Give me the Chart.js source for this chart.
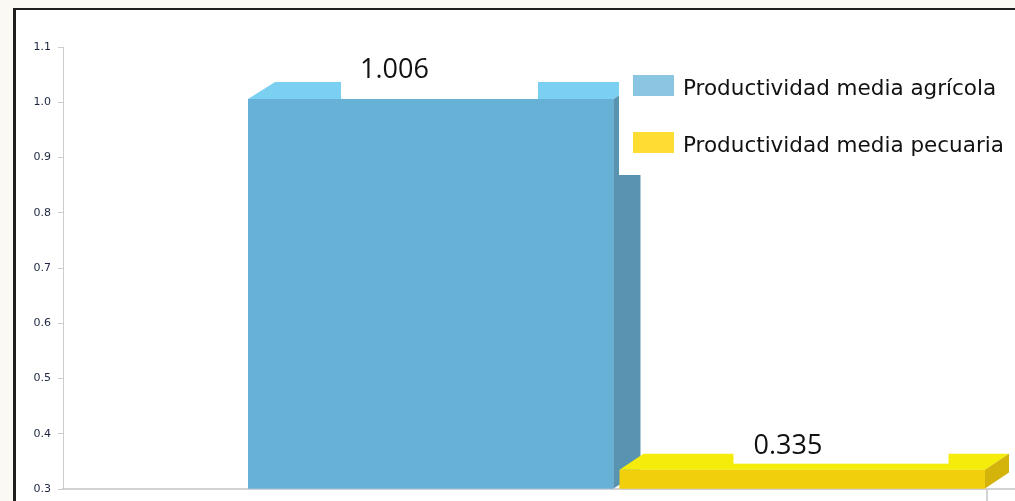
<!DOCTYPE html>
<html>
<head>
<meta charset="utf-8">
<script src="https://cdn.jsdelivr.net/npm/chart.js@4.4.1/dist/chart.umd.min.js"></script>
<style>
  html, body { margin: 0; padding: 0; width: 1015px; height: 501px; overflow: hidden; background: #fbf9f4; }
  #panel { position: absolute; left: 13px; top: 8px; width: 1010px; height: 500px; background: #ffffff;
           border-left: 3px solid #1e1e1e; border-top: 2px solid #1e1e1e; }
  #wrap { position: absolute; left: 0; top: 0; width: 1015px; height: 501px; overflow: hidden; }
  #c { position: absolute; left: 0; top: 0; width: 1200px; height: 501px; }
</style>
</head>
<body>
<div id="panel"></div>
<div id="wrap"><canvas id="c" width="1200" height="501"></canvas></div>
<script>
// ---- data ----
const categories = [''];
const seriesNames = ['Productividad media agrícola', 'Productividad media pecuaria'];
const agricola = [1.006];
const pecuaria = [0.335];
const yTickValues = [0.3, 0.4, 0.5, 0.6, 0.7, 0.8, 0.9, 1.0, 1.1];

// ---- styling ----
const frontColors  = ['#68b1d6', '#f2cf0c'];
const topColors    = ['#7bd0f2', '#f5ec0b'];
const sideColors   = ['#5894b1', '#d4b40a'];
const swatchColors = ['#8ac5e2', '#ffdd33'];
const depthX = [27, 24];
const depthY = [17, 16];
// value-label plates (relative to each bar's left edge / top)
const labelBoxOffsetX = [93, 114];
const labelBoxWidth   = [197, 215];
const labelTextPadX   = [19, 20];
const labelBaselineUp = [21, 16];
const labelBoxBottomUp = [0, 6];

function barGeom(el) {
  const p = el.getProps(['x', 'y', 'base', 'width'], true);
  return { left: p.x - p.width / 2, right: p.x + p.width / 2, top: p.y, base: p.base };
}

// Extruded bars: each series is painted front face, top face, side face,
// first series first, so later bars sit in front of earlier side faces.
const extrude = {
  id: 'extrude',
  afterDatasetsDraw(chart) {
    const ctx = chart.ctx;
    const bottom = chart.chartArea.bottom;
    chart.data.datasets.forEach((ds, i) => {
      const dx = depthX[i], dy = depthY[i];
      chart.getDatasetMeta(i).data.forEach(el => {
        el.draw(ctx);
        const g = barGeom(el);
        const base = Math.min(g.base, bottom);
        ctx.save();
        ctx.fillStyle = topColors[i];
        ctx.beginPath();
        ctx.moveTo(g.left, g.top);
        ctx.lineTo(g.left + dx, g.top - dy);
        ctx.lineTo(g.right + dx, g.top - dy);
        ctx.lineTo(g.right, g.top);
        ctx.closePath();
        ctx.fill();
        ctx.fillStyle = sideColors[i];
        ctx.beginPath();
        ctx.moveTo(g.right, g.top);
        ctx.lineTo(g.right + dx, g.top - dy);
        ctx.lineTo(g.right + dx, base - dy);
        ctx.lineTo(g.right, base);
        ctx.closePath();
        ctx.fill();
        ctx.restore();
      });
    });
  }
};

// value labels on white plates, legend panel and the trailing axis tick
const overlays = {
  id: 'overlays',
  afterDraw(chart) {
    const ctx = chart.ctx;
    ctx.save();
    chart.data.datasets.forEach((ds, i) => {
      const meta = chart.getDatasetMeta(i);
      meta.data.forEach((el, j) => {
        const g = barGeom(el);
        const bx = g.left + labelBoxOffsetX[i];
        const bottom = g.top - labelBoxBottomUp[i];
        ctx.fillStyle = '#ffffff';
        ctx.fillRect(bx, bottom - 42, labelBoxWidth[i], 42);
        ctx.fillStyle = '#111111';
        ctx.font = '27px "Open Sans"';
        ctx.textAlign = 'left';
        ctx.textBaseline = 'alphabetic';
        ctx.fillText(ds.data[j].toFixed(3), bx + labelTextPadX[i], g.top - labelBaselineUp[i]);
      });
    });
    // trailing tick under the axis at the end of the last bar
    const lastMeta = chart.getDatasetMeta(chart.data.datasets.length - 1);
    const lg = barGeom(lastMeta.data[0]);
    ctx.fillStyle = '#d2d2d2';
    ctx.fillRect(Math.round(lg.right + 1), chart.chartArea.bottom, 2, chart.height - chart.chartArea.bottom);
    // legend
    ctx.fillStyle = '#ffffff';
    ctx.fillRect(619, 55, 600, 120);
    ctx.font = '21.5px "DejaVu Sans"';
    ctx.textAlign = 'left';
    ctx.textBaseline = 'alphabetic';
    chart.data.datasets.forEach((ds, i) => {
      const y = 75 + i * 57;
      ctx.fillStyle = swatchColors[i];
      ctx.fillRect(633, y, 41, 21);
      ctx.fillStyle = '#111111';
      ctx.fillText(ds.label, 683, y + 19.5);
    });
    ctx.restore();
  }
};

new Chart(document.getElementById('c'), {
  type: 'bar',
  data: {
    labels: categories,
    datasets: [
      { label: seriesNames[0], data: agricola, base: yTickValues[0], backgroundColor: frontColors[0], borderWidth: 0 },
      { label: seriesNames[1], data: pecuaria, base: yTickValues[0], backgroundColor: frontColors[1], borderWidth: 0 }
    ]
  },
  options: {
    responsive: false,
    animation: false,
    devicePixelRatio: 1,
    categoryPercentage: 0.6712,
    barPercentage: 0.9838,
    layout: { padding: { top: 47, left: 0, right: 30, bottom: 0 } },
    plugins: { legend: { display: false }, tooltip: { enabled: false } },
    scales: {
      x: {
        ticks: { display: false },
        grid: { display: false, drawTicks: false },
        border: { display: true, color: '#d2d2d2', width: 2 },
        afterFit(scale) { scale.height = 12; }
      },
      y: {
        min: yTickValues[0],
        max: yTickValues[yTickValues.length - 1],
        afterBuildTicks(scale) { scale.ticks = yTickValues.map(v => ({ value: v })); },
        afterFit(scale) { scale.width = 63; },
        ticks: {
          padding: 7,
          color: '#1c2640',
          font: { family: 'DejaVu Sans', size: 11, lineHeight: 0.9 },
          callback: v => Number(v).toFixed(1)
        },
        grid: { drawOnChartArea: false, drawTicks: true, tickLength: 5, color: '#cccccc' },
        border: { display: true, color: '#cccccc', width: 1 }
      }
    }
  },
  plugins: [extrude, overlays]
});
</script>
</body>
</html>
